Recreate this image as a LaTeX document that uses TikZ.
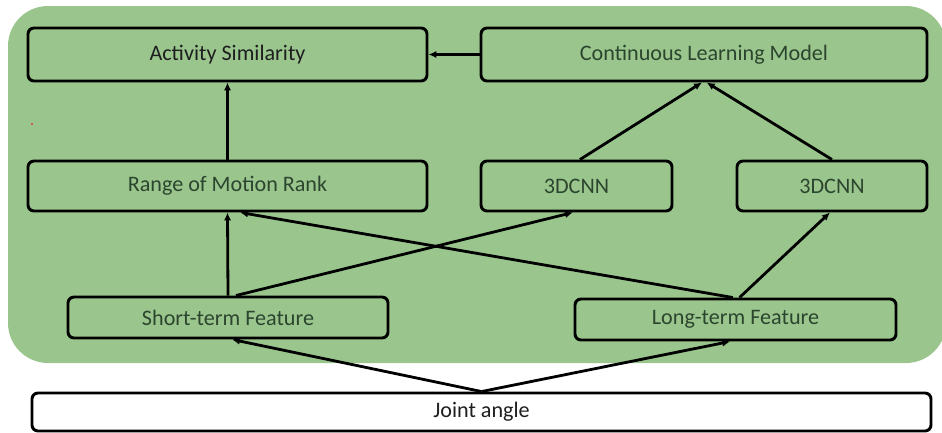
\documentclass[tikz,border=0pt]{standalone}
\usepackage{fontspec}
\setmainfont{Carlito}
\usetikzlibrary{arrows.meta}
\definecolor{panelgreen}{HTML}{9AC68E}
\definecolor{labelgreen}{HTML}{2C452E}
\definecolor{labeldark}{HTML}{1E1E1E}
\tikzset{
  box/.style={draw=black, line width=2.2pt, rounded corners=4.5pt, inner sep=0pt,
    font=\fontsize{16.6}{19}\selectfont, text=labelgreen},
  flow/.style={line width=2.1pt, -{Latex[length=6pt,width=5.5pt]}},
}
\begin{document}
\begin{tikzpicture}[x=0.75pt,y=-0.75pt]
  \useasboundingbox (0,0) rectangle (942,432);
  % background panel
  \fill[panelgreen, rounded corners=30pt] (8,6) rectangle (946,363);
  \fill[red] (32,124) circle (0.8);

  % boxes
  \node[box, minimum width=299.25pt, minimum height=39.75pt, text=labeldark] (as) at (227.5,54.5) {Activity Similarity};
  \node[box, minimum width=334.5pt, minimum height=39.75pt] (clm) at (704,54.5) {Continuous Learning Model};
  \node[box, minimum width=299.25pt, minimum height=37.5pt] (rmr) at (227.5,186) {Range of Motion Rank};
  \node[box, minimum width=143.25pt, minimum height=37.5pt] (cnna) at (576.5,186) {3DCNN};
  \node[box, minimum width=142.5pt, minimum height=37.5pt] (cnnb) at (832,186) {3DCNN};
  \node[box, minimum width=240pt, minimum height=30.75pt] (sf) at (228,317.5) {Short-term Feature};
  \node[box, minimum width=240.75pt, minimum height=30.75pt] (lf) at (735.5,319.5) {Long-term Feature};
  \node[box, fill=white, minimum width=674.25pt, minimum height=28.5pt, text=labeldark] (ja) at (481.5,412) {Joint angle};

  % connectors
  \draw[flow] (clm.west) -- (as.east);
  \draw[flow] (rmr.north) -- (as.south);
  \draw[flow] ([xshift=2.6pt]cnna.north) -- ([xshift=-1.5pt]clm.south);
  \draw[flow] (cnnb.north) -- ([xshift=2pt]clm.south);
  \draw[flow] (sf.north) -- (rmr.south);
  \draw[flow] ([xshift=6pt]sf.north) -- ([xshift=-2.6pt]cnna.south);
  \draw[flow] ([xshift=-2pt]lf.north) -- ([xshift=9.4pt]rmr.south);
  \draw[flow] ([xshift=3pt]lf.north) -- ([xshift=-1.5pt]cnnb.south);
  \draw[flow] (ja.north) -- ([xshift=3pt]sf.south);
  \draw[flow] (ja.north) -- ([xshift=-4pt]lf.south);
\end{tikzpicture}
\end{document}
